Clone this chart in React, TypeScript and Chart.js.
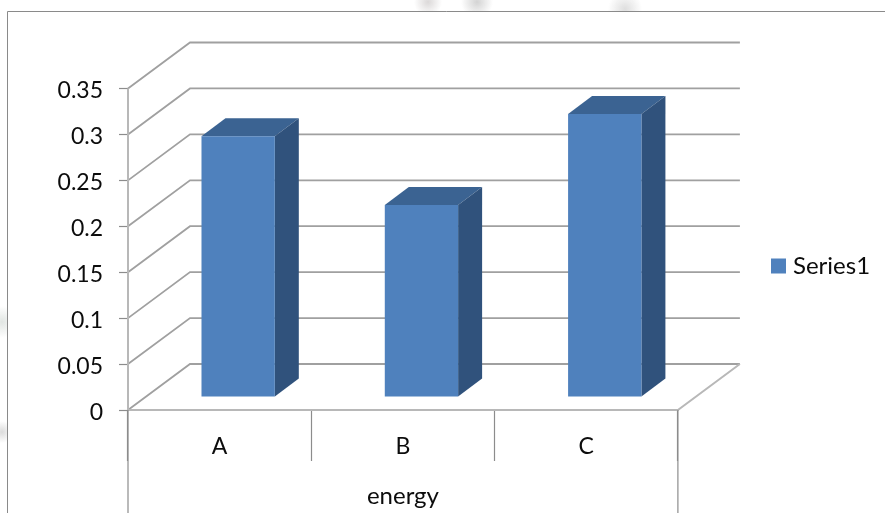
import React, { useEffect, useRef } from "react";
import { Chart, registerables } from "chart.js";

Chart.register(...registerables);

const categories = ["A", "B", "C"];
const seriesName = "Series1";
const seriesValues = [0.284, 0.209, 0.308];
const groupLabel = "energy";
const yStep = 0.05;
const yMax = 0.35;

const FONT = "Lato, 'Open Sans', sans-serif";
const INK = "#0c0c0c";
const GRID = "#a0a0a0";
const FLOOR = "#b8b8b8";
const AXIS = "#8c8c8c";
const FRONT = "#4f81bd";
const TOP = "#3b6392";
const SIDE = "#30527c";

// Oblique offsets of the 3D box: the back wall and the bar's seat on the floor.
const WALL_DX = 62;
const WALL_DY = -46;
const BAR_DX = 18.5;
const BAR_DY = -13;
const BAR_DEPTH_DX = 24;
const BAR_DEPTH_DY = -18;

const line = (c: CanvasRenderingContext2D, pts: number[][], color: string, w: number) => {
  c.save();
  c.strokeStyle = color;
  c.lineWidth = w;
  c.beginPath();
  pts.forEach(([x, y], i) => (i ? c.lineTo(x, y) : c.moveTo(x, y)));
  c.stroke();
  c.restore();
};

const poly = (c: CanvasRenderingContext2D, pts: number[][], color: string) => {
  c.save();
  c.fillStyle = color;
  c.beginPath();
  pts.forEach(([x, y], i) => (i ? c.lineTo(x, y) : c.moveTo(x, y)));
  c.closePath();
  c.fill();
  c.restore();
};

// Faint grey smudges on the paper outside the chart frame.
const smudge = (c: CanvasRenderingContext2D, x: number, y: number, r: number, rgb: string) => {
  const g = c.createRadialGradient(x, y, 0, x, y, r);
  g.addColorStop(0, `rgba(${rgb},0.55)`);
  g.addColorStop(1, `rgba(${rgb},0)`);
  c.fillStyle = g;
  c.fillRect(x - r, y - r, 2 * r, 2 * r);
};

const wallPlugin = {
  id: "wall",
  afterLayout(chart: any) {
    // Legend sits in the middle of the free strip on the right.
    const { legend } = chart;
    legend.left = 768;
    legend.right = chart.width;
    legend.top = 246;
    legend.bottom = 290;
  },
  beforeDraw(chart: any) {
    const { ctx } = chart;
    ctx.save();
    ctx.beginPath();
    ctx.rect(0, 0, chart.width, 11);
    ctx.rect(0, 11, 7, chart.height);
    ctx.clip();
    smudge(ctx, 428, 2, 14, "190,185,185");
    smudge(ctx, 477, 2, 16, "175,175,175");
    smudge(ctx, 625, 9, 17, "195,195,195");
    smudge(ctx, 2, 322, 16, "200,208,203");
    smudge(ctx, 2, 432, 11, "190,190,190");
    ctx.restore();
  },
  beforeDatasetsDraw(chart: any) {
    const { ctx, scales } = chart;
    const { x, y } = scales;
    const L = x.left;
    const R = x.right;
    const H = chart.height;

    line(ctx, [[7.5, H], [7.5, 11.5], [chart.width, 11.5]], "#8a8a8a", 1);

    y.ticks.forEach((t: any) => {
      const py = y.getPixelForValue(t.value);
      line(
        ctx,
        [[L, py], [L + WALL_DX, py + WALL_DY], [R + WALL_DX, py + WALL_DY]],
        GRID,
        1.8
      );
    });

    const y0 = y.getPixelForValue(0);
    line(ctx, [[L, y0], [R, y0], [R + WALL_DX, y0 + WALL_DY]], FLOOR, 2);
    line(ctx, [[L, y.getPixelForValue(yMax)], [L, y0]], FLOOR, 2);
    line(ctx, [[L, y0], [L, H]], AXIS, 1.2);
    line(ctx, [[R, y0], [R, H]], AXIS, 1.2);
  },
  beforeDatasetDraw(chart: any) {
    const { ctx } = chart;
    chart.getDatasetMeta(0).data.forEach((bar: any) => {
      const l = bar.x - bar.width / 2 + BAR_DX;
      const r = bar.x + bar.width / 2 + BAR_DX;
      const t = bar.y + BAR_DY;
      const b = bar.base + BAR_DY;
      const dx = BAR_DEPTH_DX;
      const dy = BAR_DEPTH_DY;
      poly(ctx, [[l, t], [r, t], [r + dx, t + dy], [l + dx, t + dy]], TOP);
      poly(ctx, [[r, t], [r + dx, t + dy], [r + dx, b + dy], [r, b]], SIDE);
    });
    ctx.save();
    ctx.translate(BAR_DX, BAR_DY);
  },
  afterDatasetDraw(chart: any) {
    chart.ctx.restore();
  },
  afterDraw(chart: any) {
    const { ctx, scales } = chart;
    const cx = (scales.x.left + scales.x.right) / 2;
    ctx.save();
    ctx.fillStyle = INK;
    ctx.font = `24px ${FONT}`;
    ctx.textAlign = "center";
    ctx.textBaseline = "middle";
    ctx.fillText(groupLabel, cx, 496);
    ctx.restore();
  },
};

export default function App() {
  const ref = useRef<HTMLCanvasElement>(null);

  useEffect(() => {
    const chart = new Chart(ref.current!, {
      type: "bar",
      data: {
        labels: categories,
        datasets: [
          {
            label: seriesName,
            data: seriesValues,
            backgroundColor: FRONT,
            borderWidth: 0,
            barPercentage: 0.4,
            categoryPercentage: 1,
          },
        ],
      },
      plugins: [wallPlugin],
      options: {
        responsive: false,
        animation: false,
        layout: { padding: { left: 0, top: 88.5, right: 95, bottom: 0 } },
        scales: {
          x: {
            afterFit: (s: any) => {
              s.height = 103;
            },
            border: { display: false },
            grid: {
              drawOnChartArea: false,
              tickLength: 51,
              tickWidth: 1.2,
              tickColor: AXIS,
            },
            ticks: { color: INK, font: { size: 23, family: FONT }, padding: -28 },
          },
          y: {
            min: 0,
            max: yMax,
            afterFit: (s: any) => {
              s.width = 128;
            },
            border: { display: false },
            grid: {
              drawOnChartArea: false,
              tickLength: 9,
              tickWidth: 1.2,
              tickColor: AXIS,
            },
            ticks: {
              stepSize: yStep,
              color: INK,
              // The empty first line nudges each label just below its tick.
              font: { size: 23, family: FONT, lineHeight: 0.2 },
              padding: 16,
              callback: (v: any) => ["", String(Number(Number(v).toFixed(2)))],
            },
          },
        },
        plugins: {
          title: { display: false },
          tooltip: { enabled: false },
          legend: {
            position: "right",
            align: "start",
            labels: {
              usePointStyle: true,
              pointStyle: "rect",
              boxWidth: 5,
              boxHeight: 15,
              padding: 8,
              color: INK,
              font: { size: 24, family: FONT },
            },
          },
        },
      },
    });
    return () => chart.destroy();
  }, []);

  return (
    <canvas
      ref={ref}
      width={885}
      height={513}
      style={{ position: "fixed", left: 0, top: 0, display: "block" }}
    />
  );
}
